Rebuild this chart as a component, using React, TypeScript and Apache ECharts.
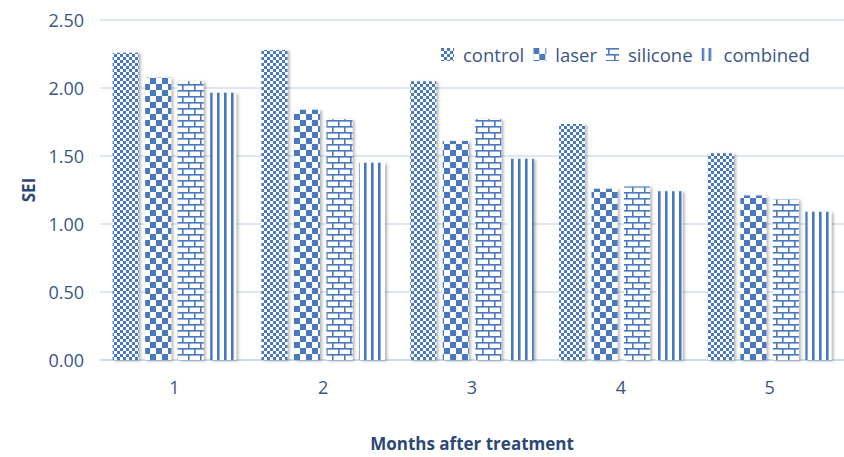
import React, { useEffect, useRef } from "react";
import * as echarts from "echarts";

const months = ["1", "2", "3", "4", "5"];
const control = [2.26, 2.28, 2.05, 1.735, 1.52];
const laser = [2.075, 1.84, 1.61, 1.26, 1.21];
const silicone = [2.05, 1.77, 1.77, 1.275, 1.18];
const combined = [1.965, 1.45, 1.48, 1.24, 1.09];

const BLUE = "#4a78c2";
const LABEL = "#3a5685";
const TITLE = "#2c4876";
const FONT = "'Open Sans', 'Noto Sans', sans-serif";

type Painter = (ctx: CanvasRenderingContext2D, w: number, h: number) => void;

function makePattern(w: number, h: number, paint: Painter) {
  const c = document.createElement("canvas");
  c.width = w;
  c.height = h;
  const ctx = c.getContext("2d")!;
  ctx.fillStyle = "#ffffff";
  ctx.fillRect(0, 0, w, h);
  ctx.fillStyle = BLUE;
  paint(ctx, w, h);
  return { image: c, repeat: "repeat", imageWidth: w, imageHeight: h } as any;
}

// small checkerboard
const smallChecker = () =>
  makePattern(6, 6, (ctx) => {
    ctx.fillRect(0, 0, 3, 3);
    ctx.fillRect(3, 3, 3, 3);
  });

// large checkerboard
const largeChecker = () =>
  makePattern(12, 12, (ctx) => {
    ctx.fillRect(0, 0, 6, 6);
    ctx.fillRect(6, 6, 6, 6);
  });

// brick wall
const bricks = () =>
  makePattern(12, 12, (ctx) => {
    ctx.fillRect(0, 0, 12, 1.6);
    ctx.fillRect(0, 6, 12, 1.6);
    ctx.fillRect(2, 0, 1.6, 6);
    ctx.fillRect(8, 6, 1.6, 6);
  });

// vertical stripes
const stripes = () =>
  makePattern(7, 4, (ctx) => {
    ctx.fillRect(0, 0, 2.6, 4);
  });

export default function App() {
  const ref = useRef<HTMLDivElement>(null);

  useEffect(() => {
    if (!ref.current) return;
    const chart = echarts.init(ref.current, undefined, { renderer: "svg" });

    const shadow = {
      shadowColor: "rgba(0,0,0,0.3)",
      shadowBlur: 3,
      shadowOffsetX: 2,
      shadowOffsetY: 1,
    };

    const mk = (name: string, data: number[], fill: any) => ({
      name,
      type: "bar",
      data,
      barGap: "25%",
      barCategoryGap: "17%",
      itemStyle: { color: fill, ...shadow },
    });

    chart.setOption({
      animation: false,
      backgroundColor: "#ffffff",
      textStyle: { fontFamily: FONT },
      legend: {
        left: 436,
        top: 40,
        itemWidth: 13,
        itemHeight: 13,
        itemGap: 9,
        icon: "rect",
        itemStyle: { shadowBlur: 0, shadowOffsetX: 0, shadowOffsetY: 0 },
        textStyle: { color: LABEL, fontSize: 18.5, fontFamily: FONT, padding: [0, 0, 0, 4] },
        data: ["control", "laser", "silicone", "combined"],
      },
      grid: { left: 100, right: 0, top: 20, bottom: 93, containLabel: false },
      xAxis: {
        type: "category",
        data: months,
        name: "Months after treatment",
        nameLocation: "middle",
        nameGap: 75,
        nameTextStyle: { color: TITLE, fontSize: 17, fontWeight: "bold", fontFamily: FONT },
        axisLine: { lineStyle: { color: "#c9d8ee", width: 1.5 } },
        axisTick: { show: false },
        axisLabel: { color: LABEL, fontSize: 18, margin: 18, fontFamily: FONT },
      },
      yAxis: {
        type: "value",
        min: 0,
        max: 2.5,
        interval: 0.5,
        name: "SEI",
        nameLocation: "middle",
        nameGap: 62,
        nameTextStyle: { color: TITLE, fontSize: 17, fontWeight: "bold", fontFamily: FONT },
        axisLine: { show: false },
        axisTick: { show: false },
        splitLine: { lineStyle: { color: "#d3e0f1", width: 1.5 } },
        axisLabel: {
          color: LABEL,
          fontSize: 18,
          margin: 16,
          fontFamily: FONT,
          formatter: (v: number) => v.toFixed(2),
        },
      },
      series: [
        mk("control", control, smallChecker()),
        mk("laser", laser, largeChecker()),
        mk("silicone", silicone, bricks()),
        mk("combined", combined, stripes()),
      ],
    });

    return () => chart.dispose();
  }, []);

  return (
    <div
      ref={ref}
      style={{ position: "absolute", left: 0, top: 0, width: 844, height: 457 }}
    />
  );
}
